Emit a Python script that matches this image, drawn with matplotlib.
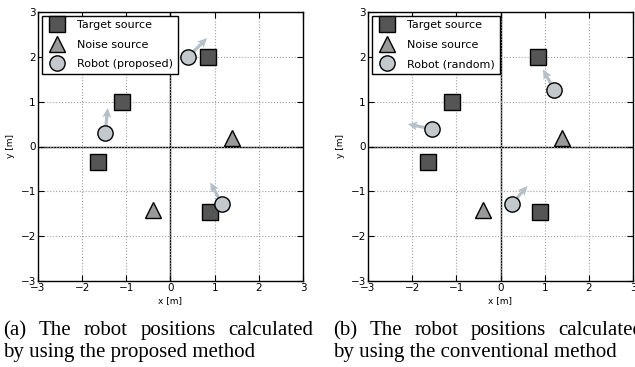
import numpy as np
import matplotlib
matplotlib.use('Agg')
import matplotlib.pyplot as plt

# sound source positions, shared by both runs
target_x = [0.85, -1.1, -1.65, 0.9]
target_y = [2.0, 1.0, -0.35, -1.46]
noise_x = [1.4, -0.39]
noise_y = [0.2, -1.41]

# robots placed by the proposed method, with heading vectors
prop_x = [0.4, -1.48, 1.17]
prop_y = [2.0, 0.3, -1.29]
prop_dx = [0.43, 0.06, -0.27]
prop_dy = [0.42, 0.56, 0.49]

# robots placed at random (conventional method)
rand_x = [1.22, -1.55, 0.25]
rand_y = [1.26, 0.39, -1.29]
rand_dx = [-0.26, -0.55, 0.36]
rand_dy = [0.46, 0.11, 0.41]

ticks = [-3, -2, -1, 0, 1, 2, 3]

W, H = 635, 367


def drawPanel(ax, rx, ry, rdx, rdy, robotLabel):
    ax.set_xlim(-3, 3)
    ax.set_ylim(-3, 3)
    ax.set_xticks(ticks)
    ax.set_yticks(ticks)
    ax.grid(True, linestyle=':', color='#a0a0a0', linewidth=0.8)
    ax.axhline(0, color='black', linewidth=1.0, zorder=1)
    ax.axvline(0, color='black', linewidth=1.0, zorder=1)
    ax.tick_params(direction='in', top=True, right=True, length=4,
                   labelsize=7.5, pad=1.5)
    for s in ax.spines.values():
        s.set_linewidth(1.0)

    # heading arrows sit underneath the robot markers
    ax.quiver(rx, ry, rdx, rdy, angles='xy', scale_units='xy', scale=1,
              color='#b6c0c8', width=0.012, headwidth=2.8, headlength=3.0,
              headaxislength=2.6, zorder=2)

    ax.plot(target_x, target_y, 's', ms=11, mfc='#555555', mec='black',
            mew=1.0, label='Target source', zorder=3)
    ax.plot(noise_x, noise_y, '^', ms=12, mfc='#999999', mec='black',
            mew=1.0, label='Noise source', zorder=3)
    ax.plot(rx, ry, 'o', ms=11, mfc='#c3c8cc', mec='black',
            mew=1.0, label=robotLabel, zorder=4)

    ax.set_xlabel('x [m]', fontsize=6.5, labelpad=2)
    ax.set_ylabel('y [m]', fontsize=6.5, labelpad=4)

    leg = ax.legend(loc='upper left', fontsize=8, numpoints=1,
                    fancybox=False, borderaxespad=0.35, handletextpad=0.8,
                    labelspacing=0.85, borderpad=0.4, handlelength=2.0)
    leg.get_frame().set_edgecolor('black')
    leg.get_frame().set_linewidth(1.0)
    leg.get_frame().set_alpha(1.0)


def justifiedLine(fig, words, x0, x1, y, size):
    # spread the words so the line fills x0..x1 (pixel coords)
    r = fig.canvas.get_renderer()
    items = []
    total = 0
    for w in words:
        t = fig.text(0, y, w, fontsize=size, family='Liberation Serif',
                     va='baseline', ha='left')
        wpx = t.get_window_extent(renderer=r).width
        items.append((t, wpx))
        total += wpx
    gap = (x1 - x0 - total) / (len(words) - 1)
    x = x0
    for t, wpx in items:
        t.set_x(x / W)
        x += wpx + gap


fig = plt.figure(figsize=(W / 100, H / 100), dpi=100)
ax1 = fig.add_axes([38 / W, 86 / H, 265 / W, 269 / H])
ax2 = fig.add_axes([368 / W, 86 / H, 265 / W, 269 / H])

drawPanel(ax1, prop_x, prop_y, prop_dx, prop_dy, 'Robot (proposed)')
drawPanel(ax2, rand_x, rand_y, rand_dx, rand_dy, 'Robot (random)')

capSize = 15
y1 = (H - 335) / H
y2 = (H - 357) / H
justifiedLine(fig, '(a) The robot positions calculated'.split(), 3, 313, y1, capSize)
fig.text(3 / W, y2, 'by using the proposed method', fontsize=capSize,
         family='Liberation Serif', va='baseline', ha='left')
justifiedLine(fig, '(b) The robot positions calculated'.split(), 333, 643, y1, capSize)
fig.text(333 / W, y2, 'by using the conventional method', fontsize=capSize,
         family='Liberation Serif', va='baseline', ha='left')

fig.savefig('out.png', dpi=100)
